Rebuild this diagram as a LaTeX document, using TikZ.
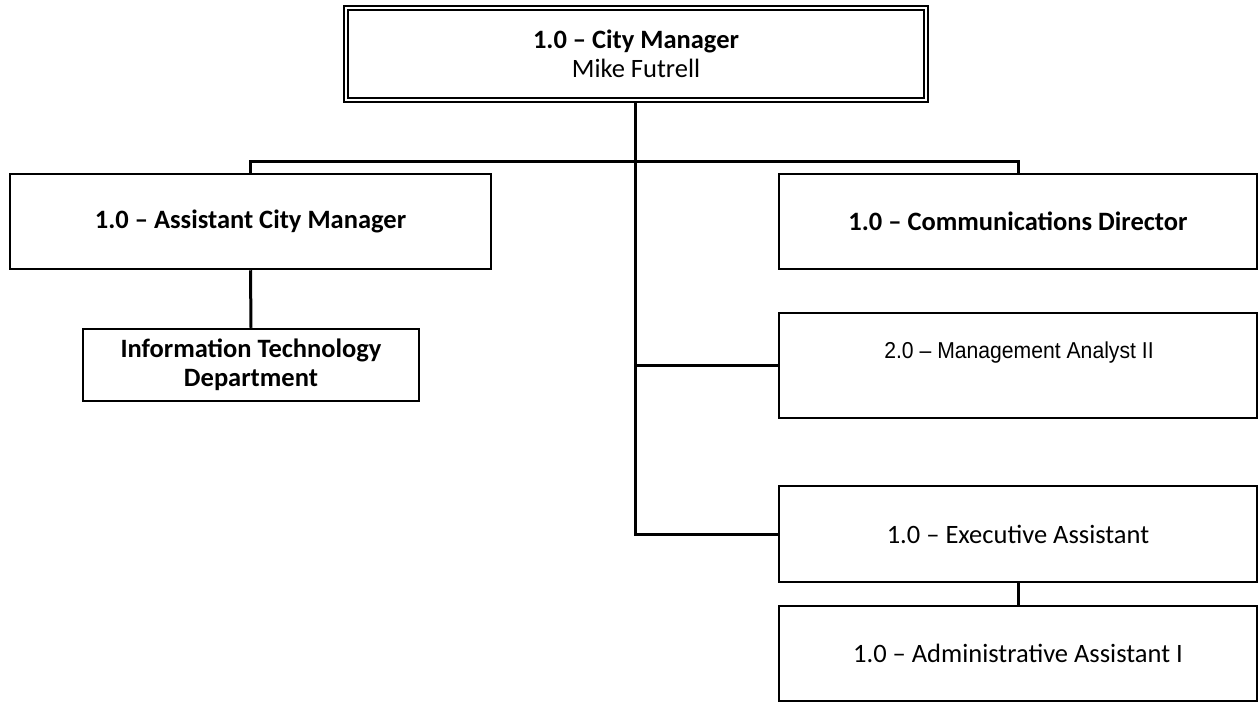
\documentclass[tikz,border=0pt]{standalone}
\usepackage{fontspec}
\setmainfont{Carlito}
\newfontfamily\arialn[FakeStretch=0.92]{Liberation Sans}
\begin{document}
\begin{tikzpicture}[x=1pt,y=-1pt,
  box/.style={draw=black,line width=2.5pt,fill=white,inner sep=0pt,align=center,
    font=\fontsize{26.5}{29}\selectfont},
  conn/.style={draw=black,line width=3pt}]
\useasboundingbox[fill=white] (0,0) rectangle (1259,702);
% boxes
\node[box,line width=2.8pt,minimum width=584pt,minimum height=96pt] (cm) at (636,54)
  {\textbf{1.0 – City Manager}\\Mike Futrell};
\draw[line width=2pt] ([xshift=5pt,yshift=-5pt]cm.north west) rectangle ([xshift=-5pt,yshift=5pt]cm.south east);
\node[box,minimum width=481pt,minimum height=95pt] (acm) at (250.5,221.5)
  {\textbf{1.0 – Assistant City Manager}};
\node[box,minimum width=336pt,minimum height=72pt] (it) at (251,365)
  {\textbf{Information Technology}\\\textbf{Department}};
\node[box,minimum width=478pt,minimum height=95pt] (cd) at (1018,221.5)
  {\textbf{1.0 – Communications Director}};
\node[box,minimum width=478pt,minimum height=105pt] (ma) at (1018,365.5) {};
\node[font=\arialn\fontsize{23}{28}\selectfont,inner sep=0pt] (matxt) at (1019,353)
  {2.0 – Management Analyst II};
\node[box,minimum width=478pt,minimum height=96pt] (ea) at (1018,534)
  {1.0 – Executive Assistant};
\node[box,minimum width=478pt,minimum height=95pt] (aa) at (1018,653.5)
  {1.0 – Administrative Assistant I};
% connectors
\coordinate (bus) at (635,161.5);
\draw[conn] (cm.south -| bus) -- (bus |- ea.west) -- (ea.west);
\draw[conn] (bus |- ma.west) -- (ma.west);
\draw[conn] (acm.north) |- (bus) -| (cd.north);
\draw[conn] (acm.south) -- (it.north);
\draw[conn] (ea.south) -- (aa.north);
\end{tikzpicture}
\end{document}
